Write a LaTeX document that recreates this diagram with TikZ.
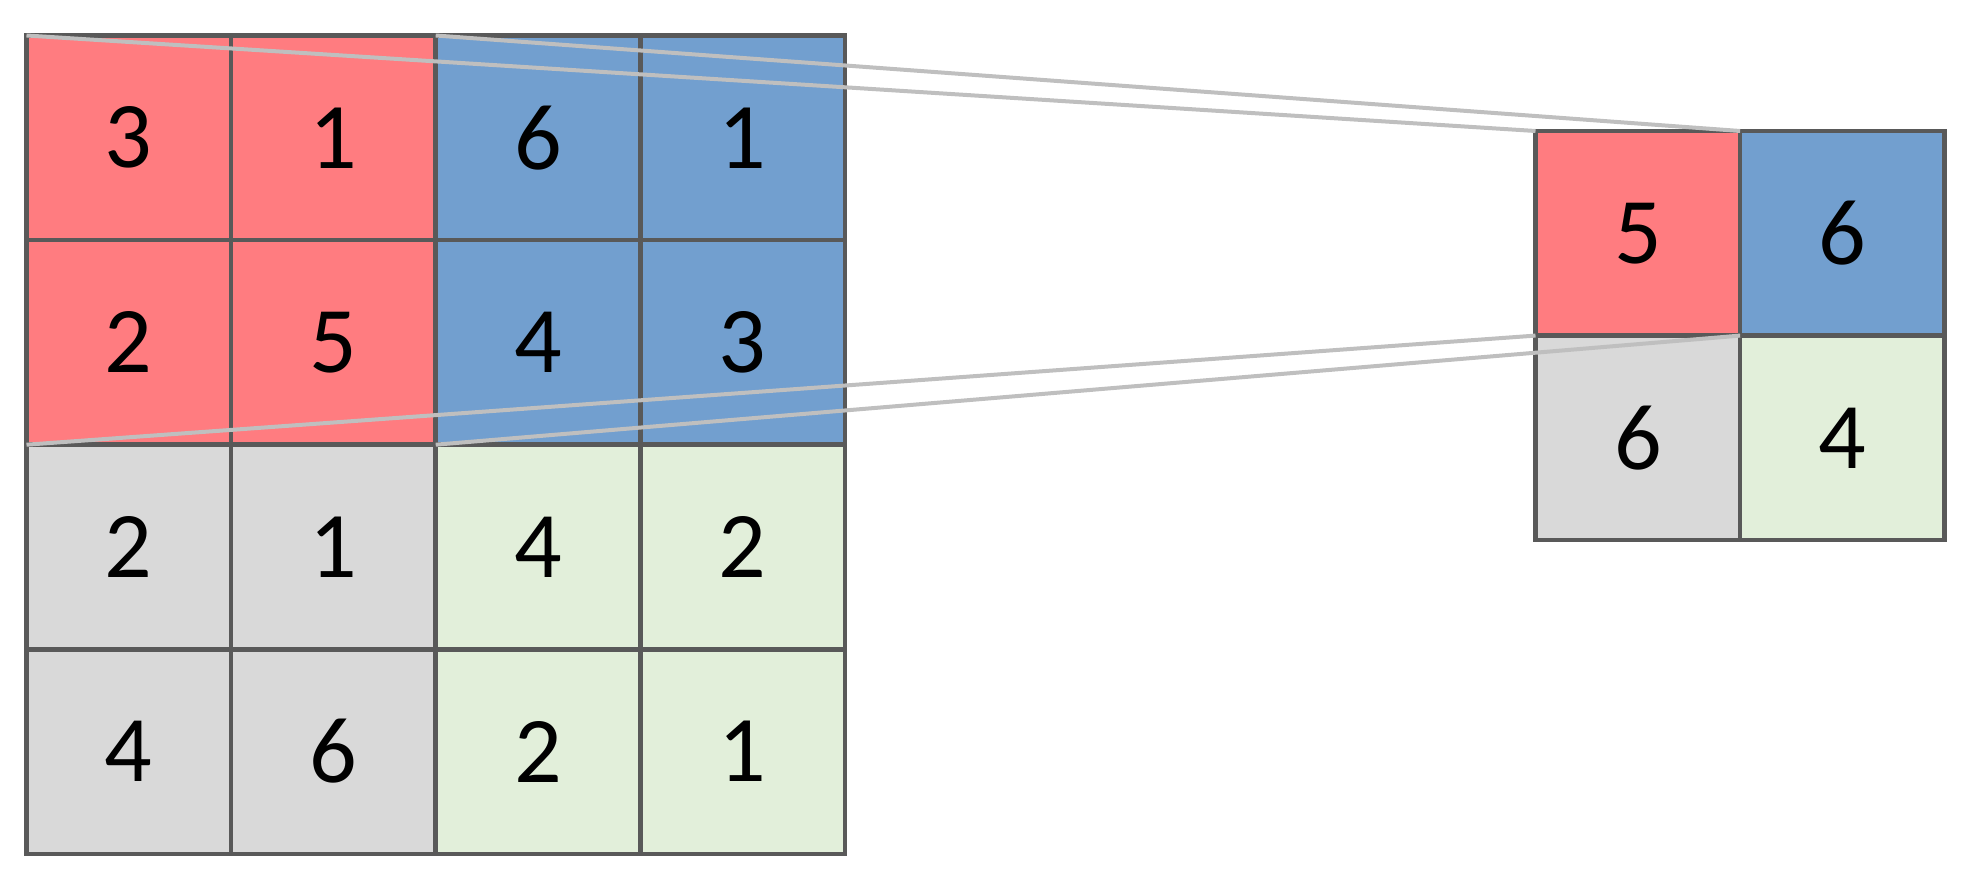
\documentclass[tikz,border=0pt]{standalone}
\usepackage{fontspec}
\setmainfont{Carlito}
\definecolor{cred}{HTML}{FF7C80}
\definecolor{cblue}{HTML}{729FCF}
\definecolor{cgray}{HTML}{D9D9D9}
\definecolor{cgreen}{HTML}{E2EFDA}
\definecolor{cborder}{HTML}{595959}
\definecolor{clink}{HTML}{BFBFBF}
\begin{document}
\begin{tikzpicture}[x=0.5pt,y=-0.5pt,
  cell/.style={draw=cborder,line width=2.25pt,minimum width=102.3pt,minimum height=102.3pt,
    inner sep=0pt,outer sep=0pt,font=\fontsize{47}{56}\selectfont},
  redc/.style={cell,fill=cred},
  bluec/.style={cell,fill=cblue},
  grayc/.style={cell,fill=cgray},
  greenc/.style={cell,fill=cgreen},
  link/.style={draw=clink,line width=2pt}]
\useasboundingbox (0,0) rectangle (1974,876);
% left grid
\node[redc]   (a11) at (128.8,137.8) {3};
\node[redc]   (a12) at (333.4,137.8) {1};
\node[bluec]  (a13) at (538.0,137.8) {6};
\node[bluec]  (a14) at (742.6,137.8) {1};
\node[redc]   (a21) at (128.8,342.4) {2};
\node[redc]   (a22) at (333.4,342.4) {5};
\node[bluec]  (a23) at (538.0,342.4) {4};
\node[bluec]  (a24) at (742.6,342.4) {3};
\node[grayc]  (a31) at (128.8,547.0) {2};
\node[grayc]  (a32) at (333.4,547.0) {1};
\node[greenc] (a33) at (538.0,547.0) {4};
\node[greenc] (a34) at (742.6,547.0) {2};
\node[grayc]  (a41) at (128.8,751.6) {4};
\node[grayc]  (a42) at (333.4,751.6) {6};
\node[greenc] (a43) at (538.0,751.6) {2};
\node[greenc] (a44) at (742.6,751.6) {1};
% right grid
\node[redc]   (b11) at (1637.8,233.3) {5};
\node[bluec]  (b12) at (1842.4,233.3) {6};
\node[grayc]  (b21) at (1637.8,437.9) {6};
\node[greenc] (b22) at (1842.4,437.9) {4};
% links
\draw[link] (a11.north west) -- (b11.north west);
\draw[link] (a13.north west) -- (b12.north west);
\draw[link] (a21.south west) -- (b11.south west);
\draw[link] (a23.south west) -- (b12.south west);
\end{tikzpicture}
\end{document}
